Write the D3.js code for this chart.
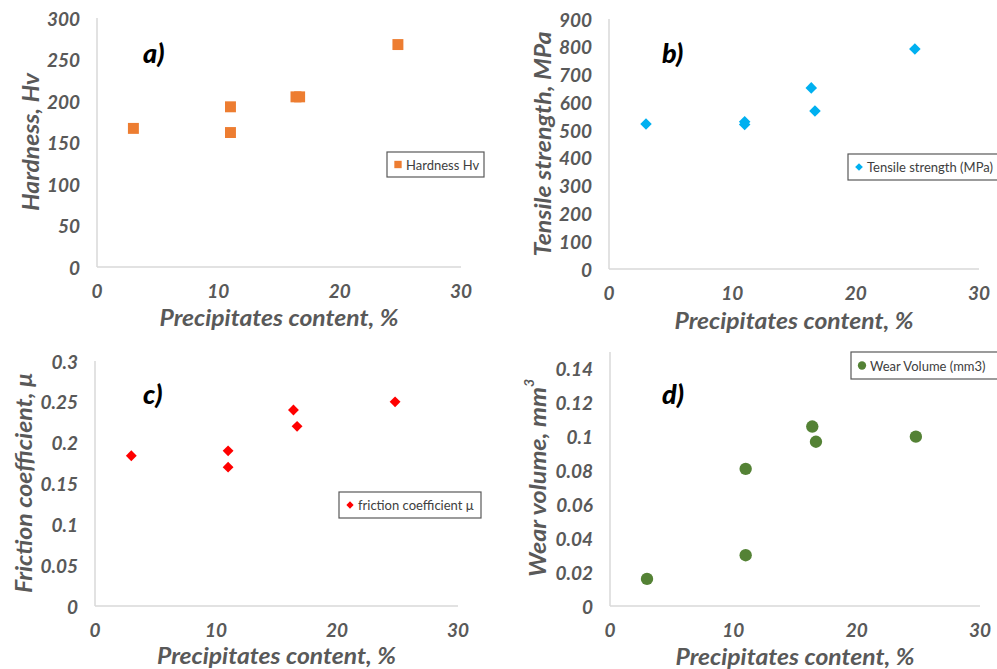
<!DOCTYPE html>
<html>
<head>
<meta charset="utf-8">
<script src="https://d3js.org/d3.v7.min.js"></script>
<style>
  body { margin:0; background:#fff; }
  svg { display:block; }
  .tick-label { font-family: Lato, "Open Sans", sans-serif; font-style:italic; font-weight:700; font-size:19px; fill:#595959; }
  .axis-title { font-family: Lato, "Open Sans", sans-serif; font-style:italic; font-weight:700; font-size:22px; fill:#595959; }
  .panel-tag { font-family: Lato, "Open Sans", sans-serif; font-style:italic; font-weight:900; font-size:27px; fill:#000; }
  .legend-text { font-family: Lato, "Open Sans", sans-serif; font-size:13px; fill:#404040; }
</style>
</head>
<body>
<div id="chart"></div>
<script>
// data
const precipitates = [3, 11, 11, 16.4, 16.7, 24.8];
const hardness = [167, 193, 162, 205, 205, 268];
const tensile = [522, 530, 520, 652, 569, 792];
const friction = [0.184, 0.19, 0.17, 0.24, 0.22, 0.25];
const wearVolume = [0.016, 0.081, 0.030, 0.106, 0.097, 0.100];

const xTicks = [0, 10, 20, 30];
const hardnessTicks = [0, 50, 100, 150, 200, 250, 300];
const tensileTicks = [0, 100, 200, 300, 400, 500, 600, 700, 800, 900];
const frictionTicks = [0, 0.05, 0.1, 0.15, 0.2, 0.25, 0.3];
const wearTicks = [0, 0.02, 0.04, 0.06, 0.08, 0.1, 0.12, 0.14];

const W = 997, H = 669;
const svg = d3.select("#chart").append("svg").attr("width", W).attr("height", H);

const panels = [
  { tag: "a)", values: hardness, ticks: hardnessTicks, yMax: 300, symbol: d3.symbolSquare, size: 120,
    color: "#ED7D31", yTitle: ["Hardness, Hv"], yLen: 138, legend: "Hardness Hv",
    left: 97, right: 461, top: 18, bottom: 267, yTitleX: 30, yTitleC: 142, xTitleY: 317, tagX: 143, tagY: 52,
    legendBox: [387, 152, 97, 25] },
  { tag: "b)", values: tensile, ticks: tensileTicks, yMax: 900, symbol: d3.symbolDiamond2, size: 85,
    color: "#00B0F0", yTitle: ["Tensile strength, MPa"], yLen: 225, legend: "Tensile strength (MPa)",
    left: 609, right: 979, top: 19, bottom: 269, yTitleX: 542, yTitleC: 144, xTitleY: 320, tagX: 662, tagY: 52,
    legendBox: [848, 154, 160, 26] },
  { tag: "c)", values: friction, ticks: frictionTicks, yMax: 0.3, symbol: d3.symbolDiamond2, size: 75,
    color: "#FF0000", yTitle: ["Friction coefficient, μ"], yLen: 220, legend: "friction coefficient μ",
    left: 95, right: 458, top: 361, bottom: 606, yTitleX: 23, yTitleC: 483, xTitleY: 655, tagX: 143, tagY: 393,
    legendBox: [339, 492, 142, 26] },
  { tag: "d)", values: wearVolume, ticks: wearTicks, yMax: 0.15, symbol: d3.symbolCircle, size: 120,
    color: "#548235", yTitle: ["Wear volume, mm", "3"], yLen: 190, legend: "Wear Volume (mm3)",
    left: 610, right: 980, top: 352, bottom: 606, yTitleX: 537, yTitleC: 478, xTitleY: 656, tagX: 662, tagY: 393,
    legendBox: [851, 352, 160, 27] }
];

panels.forEach(p => {
  const x = d3.scaleLinear().domain([0, 30]).range([p.left, p.right]);
  const y = d3.scaleLinear().domain([0, p.yMax]).range([p.bottom, p.top]);
  const g = svg.append("g");

  // axis lines
  g.append("line").attr("x1", p.left).attr("x2", p.left).attr("y1", p.top).attr("y2", p.bottom)
    .attr("stroke", "#d9d9d9").attr("stroke-width", 1.5);
  g.append("line").attr("x1", p.left).attr("x2", p.right).attr("y1", p.bottom).attr("y2", p.bottom)
    .attr("stroke", "#d9d9d9").attr("stroke-width", 1.5);

  // tick labels
  g.selectAll("text.ytick").data(p.ticks).enter().append("text")
    .attr("class", "tick-label ytick")
    .attr("x", p.left - 17).attr("y", d => y(d))
    .attr("text-anchor", "end").attr("dominant-baseline", "central")
    .text(d => String(d));
  g.selectAll("text.xtick").data(xTicks).enter().append("text")
    .attr("class", "tick-label xtick")
    .attr("x", d => x(d)).attr("y", p.bottom + 23)
    .attr("text-anchor", "middle").attr("dominant-baseline", "central")
    .text(d => String(d));

  // axis titles
  g.append("text").attr("class", "axis-title")
    .attr("x", (p.left + p.right) / 2).attr("y", p.xTitleY)
    .attr("text-anchor", "middle").attr("dominant-baseline", "central")
    .attr("textLength", 239).attr("lengthAdjust", "spacingAndGlyphs")
    .text("Precipitates content, %");
  const yt = g.append("text").attr("class", "axis-title")
    .attr("transform", `translate(${p.yTitleX},${p.yTitleC}) rotate(-90)`)
    .attr("text-anchor", "middle").attr("dominant-baseline", "central");
  yt.append("tspan").attr("textLength", p.yLen).attr("lengthAdjust", "spacingAndGlyphs").text(p.yTitle[0]);
  if (p.yTitle[1]) yt.append("tspan").attr("dy", -9).attr("font-size", 14).text(p.yTitle[1]);

  // panel tag
  g.append("text").attr("class", "panel-tag")
    .attr("x", p.tagX).attr("y", p.tagY).attr("dominant-baseline", "central")
    .text(p.tag);

  // points
  const sym = d3.symbol().type(p.symbol).size(p.size);
  g.selectAll("path.pt").data(precipitates).enter().append("path")
    .attr("class", "pt")
    .attr("transform", (d, i) => `translate(${x(d)},${y(p.values[i])})`)
    .attr("d", sym).attr("fill", p.color);

  // legend
  const [lx, ly, lw, lh] = p.legendBox;
  g.append("rect").attr("x", lx).attr("y", ly).attr("width", lw).attr("height", lh)
    .attr("fill", "#fff").attr("stroke", "#595959").attr("stroke-width", 1.2);
  g.append("path")
    .attr("transform", `translate(${lx + 11},${ly + lh / 2})`)
    .attr("d", d3.symbol().type(p.symbol).size(p.size * 0.45)).attr("fill", p.color);
  g.append("text").attr("class", "legend-text")
    .attr("x", lx + 19).attr("y", ly + lh / 2).attr("dominant-baseline", "central")
    .text(p.legend);
});
</script>
</body>
</html>
